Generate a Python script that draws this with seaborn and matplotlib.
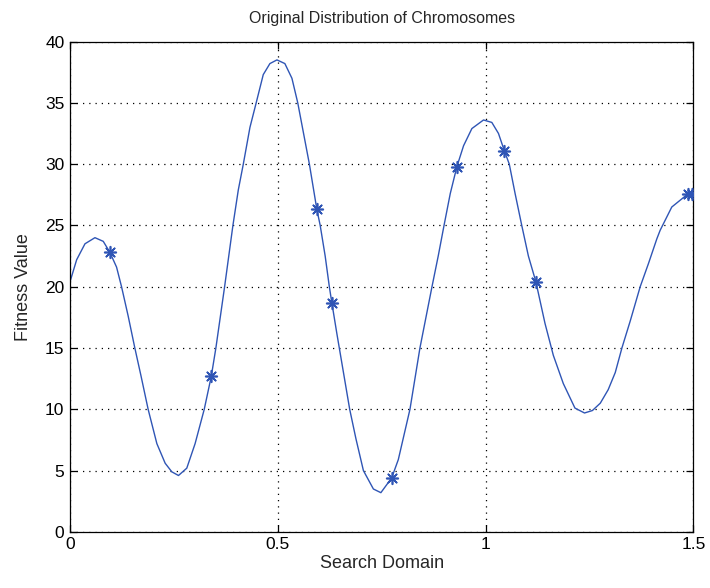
import matplotlib
matplotlib.use("Agg")
import matplotlib.pyplot as plt
import seaborn as sns
import pandas as pd

curve_x = [0.000, 0.016, 0.036, 0.060, 0.080, 0.096, 0.112, 0.124, 0.140, 0.156,
           0.171, 0.188, 0.209, 0.229, 0.245, 0.261, 0.281, 0.301, 0.323, 0.340,
           0.351, 0.372, 0.392, 0.405, 0.417, 0.433, 0.448, 0.465, 0.481, 0.498,
           0.517, 0.534, 0.548, 0.562, 0.576, 0.594, 0.602, 0.614, 0.624, 0.630,
           0.642, 0.648, 0.661, 0.673, 0.688, 0.706, 0.730, 0.748, 0.774, 0.790,
           0.818, 0.842, 0.871, 0.886, 0.900, 0.915, 0.931, 0.947, 0.967, 0.995,
           1.015, 1.031, 1.045, 1.057, 1.071, 1.087, 1.103, 1.121, 1.143, 1.163,
           1.187, 1.215, 1.238, 1.257, 1.276, 1.295, 1.312, 1.328, 1.348, 1.372,
           1.392, 1.412, 1.420, 1.448, 1.488, 1.500]
curve_y = [20.4, 22.2, 23.5, 24.0, 23.7, 22.8, 21.6, 20.0, 17.6, 15.0,
           12.7, 10.0, 7.2, 5.6, 4.9, 4.6, 5.2, 7.2, 10.0, 12.7,
           15.0, 20.0, 25.0, 27.9, 30.0, 33.0, 35.0, 37.3, 38.2, 38.5,
           38.2, 37.0, 35.0, 32.5, 30.0, 26.3, 25.0, 22.5, 20.0, 18.7,
           16.2, 15.0, 12.4, 10.0, 7.6, 5.0, 3.5, 3.2, 4.4, 5.9,
           10.0, 15.0, 20.0, 22.5, 25.0, 27.6, 29.8, 31.5, 32.9, 33.6,
           33.4, 32.5, 31.1, 30.0, 27.6, 25.0, 22.5, 20.4, 17.0, 14.4,
           12.1, 10.1, 9.7, 9.9, 10.5, 11.6, 13.0, 15.0, 17.2, 20.0,
           21.9, 23.9, 24.6, 26.5, 27.6, 27.6]

chrom_x = [0.096, 0.340, 0.594, 0.630, 0.774, 0.931, 1.045, 1.121, 1.488, 1.497]
chrom_y = [22.8, 12.7, 26.3, 18.7, 4.4, 29.8, 31.1, 20.4, 27.6, 27.6]

x_ticks = [0, 0.5, 1, 1.5]
x_tick_labels = ["0", "0.5", "1", "1.5"]
y_ticks = [0, 5, 10, 15, 20, 25, 30, 35, 40]

sns.set_theme(style="white")
plt.rcParams['font.family'] = ['Liberation Sans', 'DejaVu Sans']

curve = pd.DataFrame({"x": curve_x, "y": curve_y})
chrom = pd.DataFrame({"x": chrom_x, "y": chrom_y})

fig = plt.figure(figsize=(7.1, 5.88), dpi=100)
ax = fig.add_axes([0.0986, 0.0954, 0.878, 0.834])

blue = "#2f55b5"
sns.lineplot(data=curve, x="x", y="y", sort=False, estimator=None, color=blue,
             linewidth=1.0, ax=ax)
sns.scatterplot(data=chrom, x="x", y="y", marker=(8, 2, 0), s=70, color=blue,
                edgecolor=blue, linewidth=1.2, ax=ax, zorder=3)

ax.set_xlim(0, 1.5)
ax.set_ylim(0, 40)
ax.set_xticks(x_ticks)
ax.set_xticklabels(x_tick_labels)
ax.set_yticks(y_ticks)
ax.grid(True, color="black", linestyle=(0, (1, 4)), linewidth=0.9)
for s in ax.spines.values():
    s.set_color("black")
    s.set_linewidth(0.9)
ax.tick_params(direction="in", length=5, width=0.9, top=True, right=True,
               bottom=True, left=True, labelsize=12.5, colors="black", pad=4)
ax.set_xlabel("Search Domain", fontsize=13, labelpad=2)
ax.set_ylabel("Fitness Value", fontsize=13, labelpad=9)
ax.set_title("Original Distribution of Chromosomes", fontsize=11.5, pad=13)

fig.savefig("out.png", dpi=100, facecolor="white")
